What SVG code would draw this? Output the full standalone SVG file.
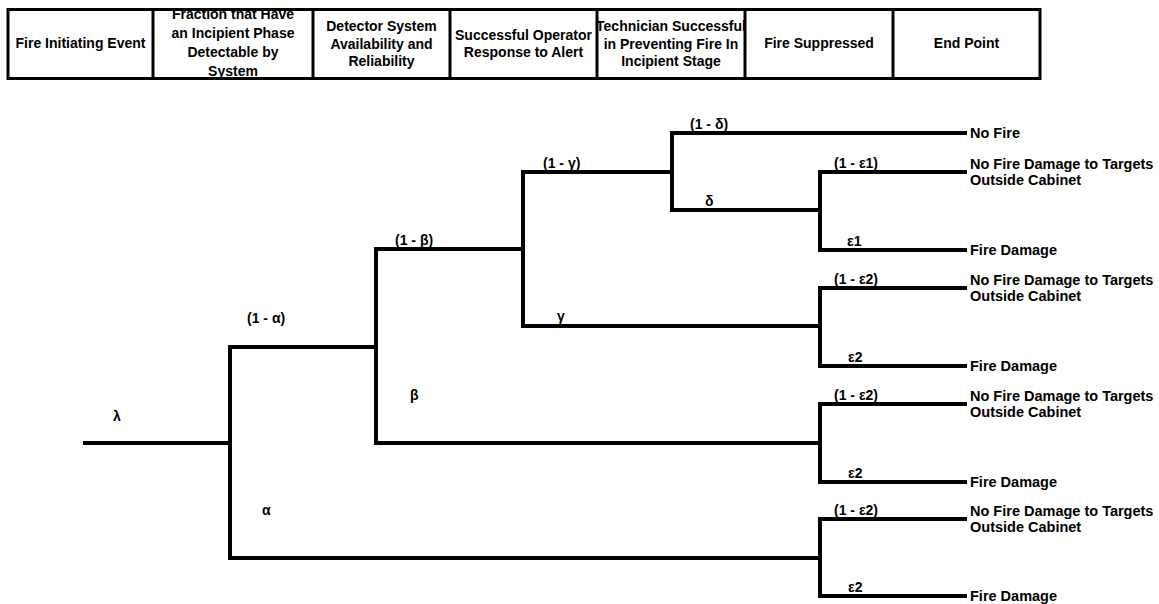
<svg xmlns="http://www.w3.org/2000/svg" width="1159" height="604" viewBox="0 0 1159 604">
<style>
text{font-family:"Liberation Sans",Arial,sans-serif;font-weight:bold;fill:#000}
.h{font-size:14px;text-anchor:middle}
.b{font-size:14px}
.e{font-size:14.5px}
.ln{fill:none;stroke:#000;stroke-width:4;stroke-linejoin:miter}
.tb{fill:none;stroke:#000;stroke-width:3}
</style>
<rect width="1159" height="604" fill="#fff"/>
<g id="header">
<text class="h" x="80.5" y="48">Fire Initiating Event</text>
<text class="h" x="233" y="19">Fraction that Have</text>
<text class="h" x="233" y="38">an Incipient Phase</text>
<text class="h" x="233" y="57">Detectable by</text>
<text class="h" x="233" y="76">System</text>
<text class="h" x="381.5" y="31">Detector System</text>
<text class="h" x="381.5" y="48.5">Availability and</text>
<text class="h" x="381.5" y="66">Reliability</text>
<text class="h" x="523.5" y="40">Successful Operator</text>
<text class="h" x="523.5" y="57">Response to Alert</text>
<text class="h" x="671" y="31">Technician Successful</text>
<text class="h" x="671" y="48.5">in Preventing Fire In</text>
<text class="h" x="671" y="66">Incipient Stage</text>
<text class="h" x="819" y="48">Fire Suppressed</text>
<text class="h" x="966.5" y="48">End Point</text>
<rect class="tb" x="8" y="9.5" width="1032" height="69"/>
<path class="tb" d="M153,9.5V78.5M313,9.5V78.5M450,9.5V78.5M597,9.5V78.5M745,9.5V78.5M893,9.5V78.5"/>
</g>
<g id="connectors">
<path class="ln" d="M83,443H230"/>
<path class="ln" d="M376,347H230V558H820"/>
<path class="ln" d="M523,249H376V443H820"/>
<path class="ln" d="M672,172H523V326H820"/>
<path class="ln" d="M967,133H672V210H820"/>
<path class="ln" d="M967,172H820V250H967"/>
<path class="ln" d="M967,288H820V366H967"/>
<path class="ln" d="M967,404H820V482H967"/>
<path class="ln" d="M967,519H820V596H967"/>
</g>
<g id="branch-labels">
<text class="b" x="113" y="421">λ</text>
<text class="b" x="247" y="323">(1 - α)</text>
<text class="b" x="262" y="515">α</text>
<text class="b" x="410" y="400">β</text>
<text class="b" x="395" y="245">(1 - β)</text>
<text class="b" x="543" y="168">(1 - γ)</text>
<text class="b" x="557" y="321">γ</text>
<text class="b" x="690" y="129">(1 - δ)</text>
<text class="b" x="705" y="206">δ</text>
<text class="b" x="834" y="168">(1 - ε1)</text>
<text class="b" x="847" y="246">ε1</text>
<text class="b" x="834" y="284">(1 - ε2)</text>
<text class="b" x="848" y="362">ε2</text>
<text class="b" x="834" y="400">(1 - ε2)</text>
<text class="b" x="848" y="478">ε2</text>
<text class="b" x="834" y="515">(1 - ε2)</text>
<text class="b" x="848" y="592">ε2</text>
</g>
<g id="end-1"><text class="e" x="970" y="138">No Fire</text></g>
<g id="end-2"><text class="e" x="970" y="169">No Fire Damage to Targets</text><text class="e" x="970" y="185">Outside Cabinet</text></g>
<g id="end-3"><text class="e" x="970" y="255">Fire Damage</text></g>
<g id="end-4"><text class="e" x="970" y="285">No Fire Damage to Targets</text><text class="e" x="970" y="301">Outside Cabinet</text></g>
<g id="end-5"><text class="e" x="970" y="371">Fire Damage</text></g>
<g id="end-6"><text class="e" x="970" y="401">No Fire Damage to Targets</text><text class="e" x="970" y="417">Outside Cabinet</text></g>
<g id="end-7"><text class="e" x="970" y="487">Fire Damage</text></g>
<g id="end-8"><text class="e" x="970" y="516">No Fire Damage to Targets</text><text class="e" x="970" y="532">Outside Cabinet</text></g>
<g id="end-9"><text class="e" x="970" y="601">Fire Damage</text></g>
</svg>
